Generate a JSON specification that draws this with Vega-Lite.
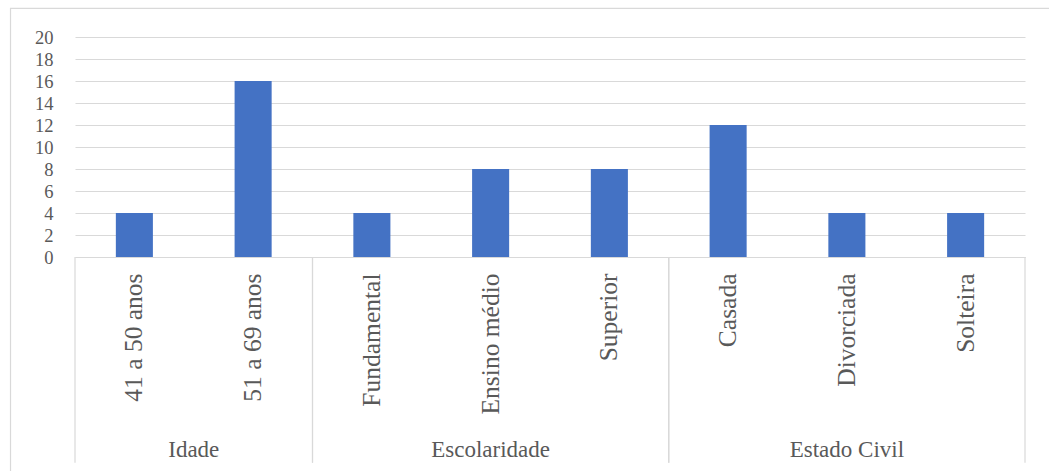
{
  "$schema": "https://vega.github.io/schema/vega-lite/v6.json",
  "autosize": {"type": "none"},
  "width": 950,
  "height": 220,
  "padding": {"left": 75, "top": 37, "right": 24, "bottom": 214},
  "background": "white",
  "config": {
    "view": {"stroke": null},
    "font": "Liberation Serif",
    "axis": {"labelFont": "Liberation Serif", "labelFontSize": 23, "labelColor": "#595959", "gridColor": "#d9d9d9", "domainColor": "#d9d9d9", "ticks": false, "title": null, "labelOverlap": false}
  },
  "datasets": {
    "bars": [
      {"group": "Idade", "category": "41 a 50 anos", "value": 4},
      {"group": "Idade", "category": "51 a 69 anos", "value": 16},
      {"group": "Escolaridade", "category": "Fundamental", "value": 4},
      {"group": "Escolaridade", "category": "Ensino médio", "value": 8},
      {"group": "Escolaridade", "category": "Superior", "value": 8},
      {"group": "Estado Civil", "category": "Casada", "value": 12},
      {"group": "Estado Civil", "category": "Divorciada", "value": 4},
      {"group": "Estado Civil", "category": "Solteira", "value": 4}
    ],
    "groups": [
      {"group": "Idade", "start": 0, "end": 2},
      {"group": "Escolaridade", "start": 2, "end": 5},
      {"group": "Estado Civil", "start": 5, "end": 8}
    ],
    "frame": [{"name": "frame"}]
  },
  "resolve": {"scale": {"x": "independent"}, "axis": {"x": "independent", "y": "independent"}},
  "layer": [
    {
      "data": {"name": "bars"},
      "mark": {"type": "bar", "color": "#4472c4", "width": {"band": 0.312}},
      "encoding": {
        "x": {"field": "category", "type": "nominal", "sort": null,
              "scale": {"paddingInner": 0, "paddingOuter": 0},
              "axis": {"labelAngle": -90, "labelPadding": 16, "labelFontSize": 25.5, "domain": true, "domainColor": "#d9d9d9", "grid": false, "title": null, "labelLimit": 300}},
        "y": {"field": "value", "type": "quantitative",
              "scale": {"domain": [0, 20], "nice": false},
              "axis": {"orient": "left", "values": [0, 2, 4, 6, 8, 10, 12, 14, 16, 18, 20], "labelFontSize": 18.5, "labelOverlap": false, "domain": false, "labelPadding": 22, "grid": true, "title": null}}
      }
    },
    {
      "data": {"name": "groups"},
      "layer": [
        {
          "mark": {"type": "rule", "color": "#d9d9d9", "strokeWidth": 1.2, "clip": false},
          "encoding": {
            "x": {"field": "start", "type": "quantitative", "scale": {"domain": [0, 8], "nice": false, "zero": false}, "axis": null},
            "y": {"datum": 0, "type": "quantitative", "scale": {"domain": [0, 20]}, "axis": null},
            "y2": {"datum": -18.7}
          }
        },
        {
          "mark": {"type": "rule", "color": "#d9d9d9", "strokeWidth": 1.2, "clip": false},
          "encoding": {
            "x": {"field": "end", "type": "quantitative", "scale": {"domain": [0, 8], "nice": false, "zero": false}, "axis": null},
            "y": {"datum": 0, "type": "quantitative", "scale": {"domain": [0, 20]}, "axis": null},
            "y2": {"datum": -18.7}
          }
        },
        {
          "transform": [{"calculate": "(datum.start + datum.end) / 2", "as": "mid"}],
          "mark": {"type": "text", "font": "Liberation Serif", "fontSize": 23, "color": "#595959", "baseline": "alphabetic", "align": "center", "clip": false},
          "encoding": {
            "x": {"field": "mid", "type": "quantitative", "scale": {"domain": [0, 8], "nice": false, "zero": false}, "axis": null},
            "y": {"datum": -18.2, "type": "quantitative", "scale": {"domain": [0, 20]}, "axis": null},
            "text": {"field": "group"}
          }
        }
      ]
    },
    {
      "data": {"name": "frame"},
      "mark": {"type": "rect", "fill": "transparent", "stroke": "#d9d9d9", "strokeWidth": 1.2, "clip": false},
      "encoding": {
        "x": {"datum": -0.543, "type": "quantitative", "scale": {"domain": [0, 8], "nice": false, "zero": false}, "axis": null},
        "x2": {"datum": 8.6},
        "y": {"datum": 22.6, "type": "quantitative", "scale": {"domain": [0, 20]}, "axis": null},
        "y2": {"datum": -25}
      }
    }
  ]
}
